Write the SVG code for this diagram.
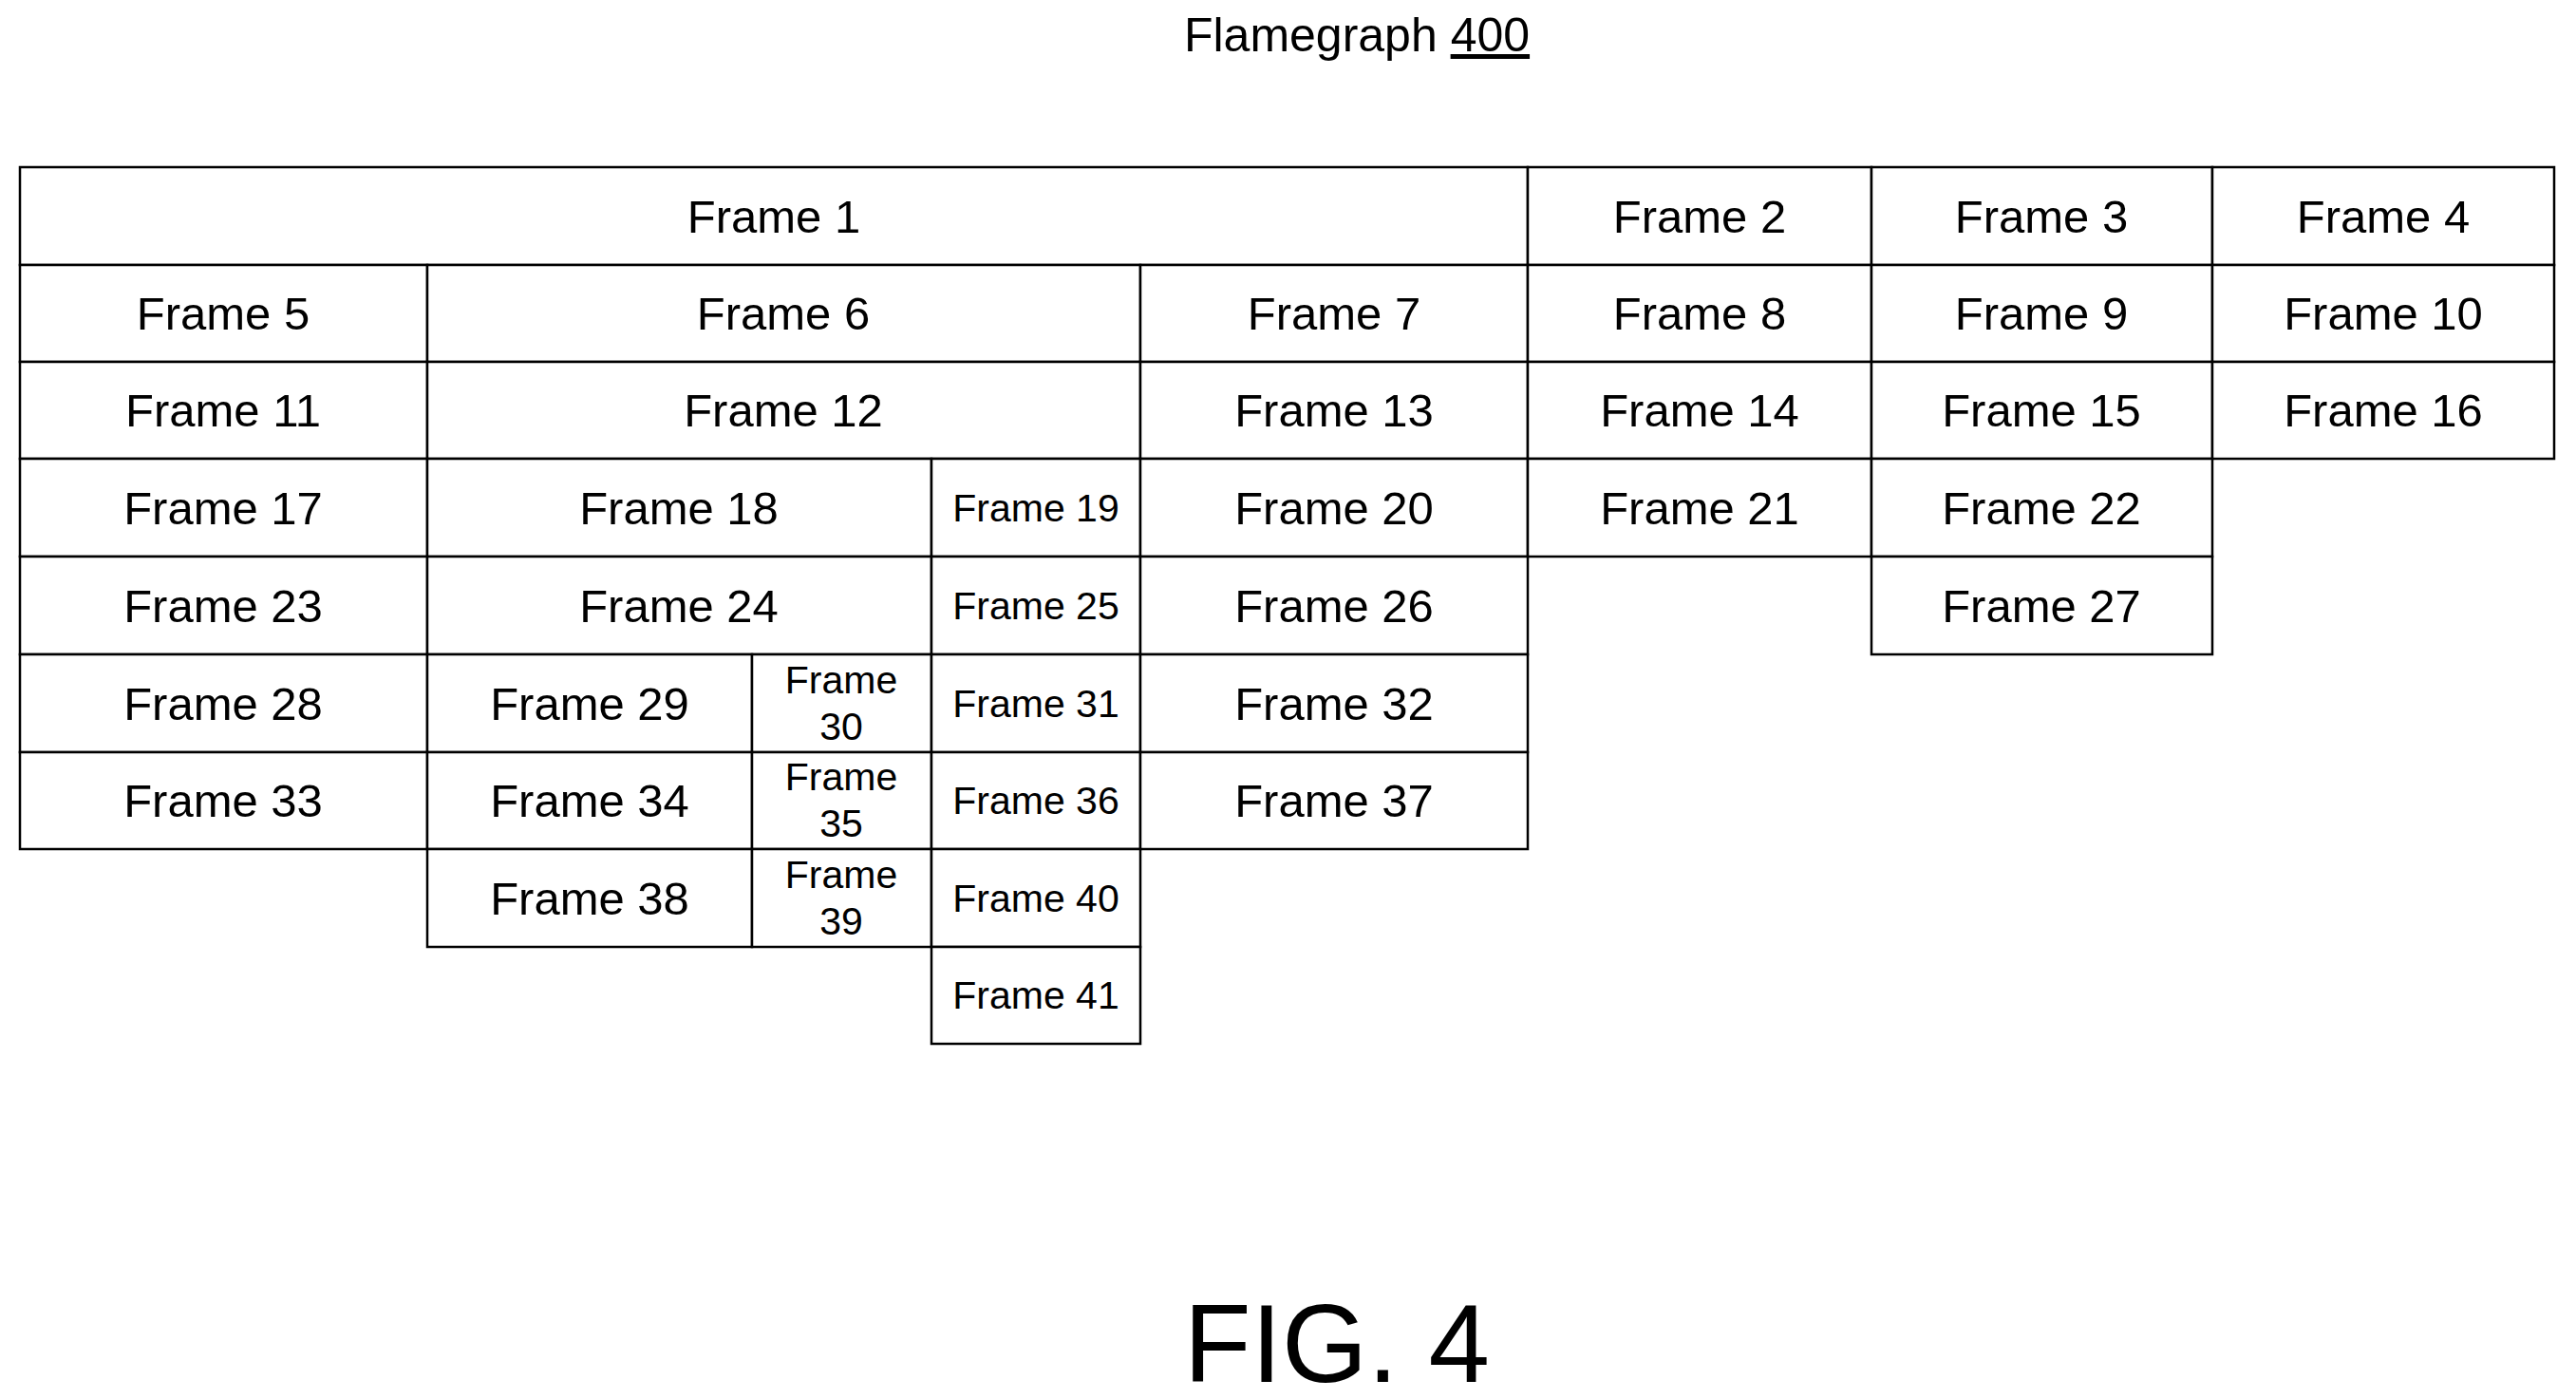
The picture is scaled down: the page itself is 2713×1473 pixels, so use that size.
<svg xmlns="http://www.w3.org/2000/svg" width="2713" height="1473" viewBox="0 0 2713 1473">
<style>
rect{fill:#fff;stroke:#000;stroke-width:2.5}
text{font-family:"Liberation Sans",Arial,sans-serif;fill:#000;text-anchor:middle}
.n{font-size:49px}
.s{font-size:41px}
</style>
<rect x="0" y="0" width="2713" height="1473" style="stroke:none"/>
<text x="1429" y="54" style="font-size:50px">Flamegraph <tspan text-decoration="underline">400</tspan></text>
<g id="f1"><rect x="21" y="176" width="1588" height="103"/><text class="n" x="815" y="245">Frame 1</text></g>
<g id="f2"><rect x="1609" y="176" width="362" height="103"/><text class="n" x="1790" y="245">Frame 2</text></g>
<g id="f3"><rect x="1971" y="176" width="359" height="103"/><text class="n" x="2150" y="245">Frame 3</text></g>
<g id="f4"><rect x="2330" y="176" width="360" height="103"/><text class="n" x="2510" y="245">Frame 4</text></g>
<g id="f5"><rect x="21" y="279" width="429" height="102"/><text class="n" x="235" y="347">Frame 5</text></g>
<g id="f6"><rect x="450" y="279" width="751" height="102"/><text class="n" x="825" y="347">Frame 6</text></g>
<g id="f7"><rect x="1201" y="279" width="408" height="102"/><text class="n" x="1405" y="347">Frame 7</text></g>
<g id="f8"><rect x="1609" y="279" width="362" height="102"/><text class="n" x="1790" y="347">Frame 8</text></g>
<g id="f9"><rect x="1971" y="279" width="359" height="102"/><text class="n" x="2150" y="347">Frame 9</text></g>
<g id="f10"><rect x="2330" y="279" width="360" height="102"/><text class="n" x="2510" y="347">Frame 10</text></g>
<g id="f11"><rect x="21" y="381" width="429" height="102"/><text class="n" x="235" y="449">Frame 11</text></g>
<g id="f12"><rect x="450" y="381" width="751" height="102"/><text class="n" x="825" y="449">Frame 12</text></g>
<g id="f13"><rect x="1201" y="381" width="408" height="102"/><text class="n" x="1405" y="449">Frame 13</text></g>
<g id="f14"><rect x="1609" y="381" width="362" height="102"/><text class="n" x="1790" y="449">Frame 14</text></g>
<g id="f15"><rect x="1971" y="381" width="359" height="102"/><text class="n" x="2150" y="449">Frame 15</text></g>
<g id="f16"><rect x="2330" y="381" width="360" height="102"/><text class="n" x="2510" y="449">Frame 16</text></g>
<g id="f17"><rect x="21" y="483" width="429" height="103"/><text class="n" x="235" y="552">Frame 17</text></g>
<g id="f18"><rect x="450" y="483" width="531" height="103"/><text class="n" x="715" y="552">Frame 18</text></g>
<g id="f19"><rect x="981" y="483" width="220" height="103"/><text class="s" x="1091" y="549">Frame 19</text></g>
<g id="f20"><rect x="1201" y="483" width="408" height="103"/><text class="n" x="1405" y="552">Frame 20</text></g>
<g id="f21"><rect x="1609" y="483" width="362" height="103"/><text class="n" x="1790" y="552">Frame 21</text></g>
<g id="f22"><rect x="1971" y="483" width="359" height="103"/><text class="n" x="2150" y="552">Frame 22</text></g>
<g id="f23"><rect x="21" y="586" width="429" height="103"/><text class="n" x="235" y="655">Frame 23</text></g>
<g id="f24"><rect x="450" y="586" width="531" height="103"/><text class="n" x="715" y="655">Frame 24</text></g>
<g id="f25"><rect x="981" y="586" width="220" height="103"/><text class="s" x="1091" y="652">Frame 25</text></g>
<g id="f26"><rect x="1201" y="586" width="408" height="103"/><text class="n" x="1405" y="655">Frame 26</text></g>
<g id="f27"><rect x="1971" y="586" width="359" height="103"/><text class="n" x="2150" y="655">Frame 27</text></g>
<g id="f28"><rect x="21" y="689" width="429" height="103"/><text class="n" x="235" y="758">Frame 28</text></g>
<g id="f29"><rect x="450" y="689" width="342" height="103"/><text class="n" x="621" y="758">Frame 29</text></g>
<g id="f30"><rect x="792" y="689" width="189" height="103"/><text class="s" x="886" y="730">Frame</text><text class="s" x="886" y="779">30</text></g>
<g id="f31"><rect x="981" y="689" width="220" height="103"/><text class="s" x="1091" y="755">Frame 31</text></g>
<g id="f32"><rect x="1201" y="689" width="408" height="103"/><text class="n" x="1405" y="758">Frame 32</text></g>
<g id="f33"><rect x="21" y="792" width="429" height="102"/><text class="n" x="235" y="860">Frame 33</text></g>
<g id="f34"><rect x="450" y="792" width="342" height="102"/><text class="n" x="621" y="860">Frame 34</text></g>
<g id="f35"><rect x="792" y="792" width="189" height="102"/><text class="s" x="886" y="832">Frame</text><text class="s" x="886" y="881">35</text></g>
<g id="f36"><rect x="981" y="792" width="220" height="102"/><text class="s" x="1091" y="857">Frame 36</text></g>
<g id="f37"><rect x="1201" y="792" width="408" height="102"/><text class="n" x="1405" y="860">Frame 37</text></g>
<g id="f38"><rect x="450" y="894" width="342" height="103"/><text class="n" x="621" y="963">Frame 38</text></g>
<g id="f39"><rect x="792" y="894" width="189" height="103"/><text class="s" x="886" y="935">Frame</text><text class="s" x="886" y="984">39</text></g>
<g id="f40"><rect x="981" y="894" width="220" height="103"/><text class="s" x="1091" y="960">Frame 40</text></g>
<g id="f41"><rect x="981" y="997" width="220" height="102"/><text class="s" x="1091" y="1062">Frame 41</text></g>
<g id="connectors"></g>
<text x="1408" y="1455" style="font-size:116px">FIG. 4</text>
</svg>
